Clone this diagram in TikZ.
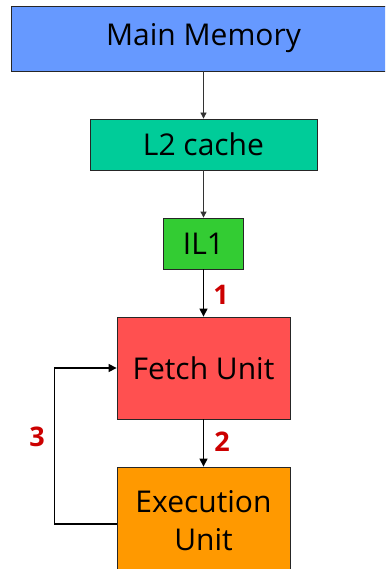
\documentclass[tikz,border=0pt]{standalone}
\usepackage{fontspec}
\setmainfont{Open Sans}
\usetikzlibrary{arrows.meta}
\definecolor{memblue}{HTML}{6699FF}
\definecolor{ltwo}{HTML}{00CC99}
\definecolor{ilone}{HTML}{33CC33}
\definecolor{fetchred}{HTML}{FF5050}
\definecolor{execorange}{HTML}{FF9900}
\definecolor{steplabel}{HTML}{CC0000}
\begin{document}
\begin{tikzpicture}[x=1pt,y=-1pt,
  unitbox/.style={draw=black!85, line width=0.8pt, inner sep=0pt, align=center,
    font=\fontsize{30}{38}\selectfont},
  thinarrow/.style={draw=black!80, line width=0.8pt, -{Triangle[length=6pt,width=6pt]}},
  mainarrow/.style={draw=black, line width=1.2pt, -{Triangle[length=8pt,width=8pt]}},
  steptag/.style={text=steplabel, font=\bfseries\fontsize{27}{30}\selectfont}]
  \useasboundingbox (0,0) rectangle (385,569);
  \clip (0,0) rectangle (385,569);
  \fill[white] (0,0) rectangle (385,569);

  % memory hierarchy boxes
  \node[unitbox, fill=memblue, minimum width=385pt, minimum height=65pt] (mem) at (203.5,38.5) {Main Memory};
  \node[unitbox, fill=ltwo, minimum width=227pt, minimum height=51pt] (l2) at (203.5,144.5) {L2 cache};
  \node[unitbox, fill=ilone, minimum width=80pt, minimum height=51pt] (il1) at (203.5,243.5) {IL1};
  \node[unitbox, fill=fetchred, minimum width=173pt, minimum height=102pt] (fetch) at (203.5,368) {Fetch Unit};
  \node[unitbox, fill=execorange, minimum width=173pt, minimum height=108pt] (exec) at (203.5,521) {Execution\\Unit};

  % connectors
  \draw[thinarrow] (mem.south) -- (l2.north);
  \draw[thinarrow] (l2.south) -- (il1.north);
  \draw[mainarrow] (il1.south) -- (fetch.north);
  \draw[mainarrow] (fetch.south) -- (exec.north);
  \draw[mainarrow] ([yshift=-3pt]exec.west) -- ++(-62,0) |- (fetch.west);

  % step numbers
  \node[steptag] (s1) at (221,295) {1};
  \node[steptag] (s2) at (222,442) {2};
  \node[steptag] (s3) at (37,437) {3};
\end{tikzpicture}
\end{document}
